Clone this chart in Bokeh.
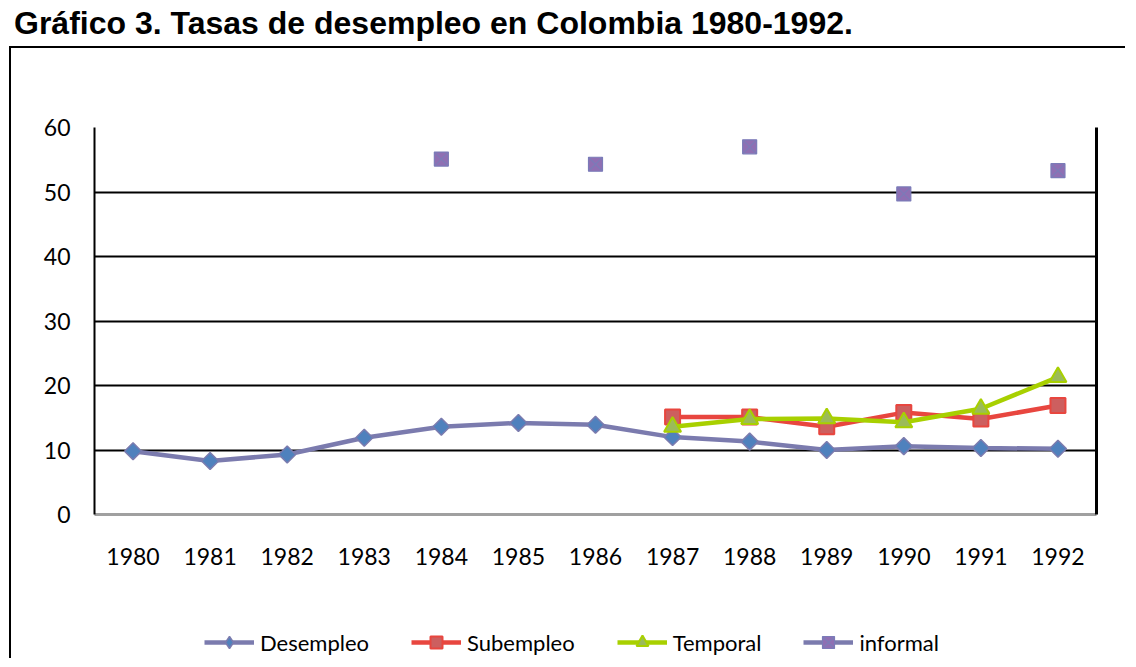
from bokeh.plotting import figure
from bokeh.layouts import column
from bokeh.models import (ColumnDataSource, Legend, LegendItem, LinearAxis, Range1d,
                          FixedTicker, Div)
from bokeh.embed import file_html
from bokeh.resources import INLINE
import math

years = ["1980", "1981", "1982", "1983", "1984", "1985", "1986",
         "1987", "1988", "1989", "1990", "1991", "1992"]
desempleo = [9.8, 8.3, 9.3, 11.9, 13.6, 14.2, 13.9, 12.0, 11.3, 10.0, 10.6, 10.3, 10.2]
sub_years = ["1987", "1988", "1989", "1990", "1991", "1992"]
subempleo = [15.1, 15.1, 13.6, 15.8, 14.8, 16.9]
temporal = [13.6, 14.8, 14.9, 14.3, 16.4, 21.3]
inf_years = ["1984", "1986", "1988", "1990", "1992"]
informal = [55.1, 54.3, 57.0, 49.7, 53.3]
y_ticks = [0, 10, 20, 30, 40, 50, 60]
series_names = ["Desempleo", "Subempleo", "Temporal", "informal"]
title_text = "Gráfico 3. Tasas de desempleo en Colombia 1980-1992."

FONT = "Lato"

# series styles
STY = {
    "Desempleo": dict(line="#7b7bae", marker="square", angle=math.pi / 4, size=12,
                      fill="#4f81bd", mline="#7b7bae", mw=1.5, lmarker="diamond"),
    "Subempleo": dict(line="#e8463f", marker="square", angle=0, size=15,
                      fill="#cd5f5f", mline="#e8463f", mw=2, lmarker="square"),
    "Temporal": dict(line="#a8d000", marker="triangle", angle=0, size=17,
                     fill="#9bbb59", mline="#a8d000", mw=2, lmarker="triangle"),
    "informal": dict(line="#7b7bae", marker="square_x", angle=0, size=14,
                     fill="#8f6fb3", mline="#7b7bb8", mw=1.2, lmarker="square_x"),
}

title_div = Div(text=title_text, width=1116, height=36,
                styles={"font-family": "Liberation Sans, Arial, sans-serif",
                        "font-weight": "bold", "font-size": "32px",
                        "line-height": "36px", "color": "black",
                        "white-space": "nowrap", "padding-left": "9px"})

p = figure(x_range=years, y_range=Range1d(0, 60), width=1116, height=552,
           output_backend="svg", toolbar_location=None,
           min_border_left=83, min_border_right=31, min_border_top=79,
           min_border_bottom=86, background_fill_color="white",
           border_fill_color="white")
p.styles = {"border-top": "2px solid black", "border-left": "2px solid black",
            "margin-left": "9px"}
p.x_range.range_padding = 0
p.outline_line_color = None

# axes
p.yaxis.ticker = FixedTicker(ticks=y_ticks)
p.yaxis.axis_line_color = "black"
p.yaxis.axis_line_width = 2
p.yaxis.major_tick_line_color = None
p.yaxis.minor_tick_line_color = None
p.yaxis.major_label_standoff = 18
p.yaxis.major_label_text_font = FONT
p.yaxis.major_label_text_font_size = "23px"
p.yaxis.major_label_text_color = "black"

p.xaxis.axis_line_color = "#a0a0a0"
p.xaxis.axis_line_width = 3
p.xaxis.major_tick_line_color = None
p.xaxis.minor_tick_line_color = None
p.xaxis.major_label_standoff = 27
p.xaxis.major_label_text_font = FONT
p.xaxis.major_label_text_font_size = "23px"
p.xaxis.major_label_text_color = "black"

right_axis = LinearAxis(ticker=FixedTicker(ticks=[]), axis_line_color="black",
                        axis_line_width=3, major_tick_line_color=None,
                        minor_tick_line_color=None, major_label_text_font_size="0px")
p.add_layout(right_axis, "right")

p.xgrid.grid_line_color = None
p.ygrid.ticker = FixedTicker(ticks=y_ticks)
p.ygrid.grid_line_color = "black"
p.ygrid.grid_line_width = 2

# data
src_d = ColumnDataSource(dict(x=years, y=desempleo))
src_s = ColumnDataSource(dict(x=sub_years, y=subempleo))
src_t = ColumnDataSource(dict(x=sub_years, y=temporal))
src_i = ColumnDataSource(dict(x=inf_years, y=informal))

def draw(fig, src, name, with_line=True, legend_glyph=False):
    s = STY[name]
    rs = []
    if with_line:
        rs.append(fig.line("x", "y", source=src, line_color=s["line"], line_width=4.5))
    rs.append(fig.scatter("x", "y", source=src,
                          marker=s["lmarker"] if legend_glyph else s["marker"],
                          angle=0 if legend_glyph else s["angle"],
                          size=s["size"], fill_color=s["fill"], line_color=s["mline"],
                          line_width=s["mw"]))
    return rs

draw(p, src_d, "Desempleo")
draw(p, src_s, "Subempleo")
draw(p, src_t, "Temporal")
draw(p, src_i, "informal", with_line=False)   # informal: markers only

# legend figure (keeps the legend outside the plot frame)
lf = figure(width=1116, height=60, output_backend="svg", toolbar_location=None,
            x_range=Range1d(0, 1), y_range=Range1d(0, 1),
            x_axis_type=None, y_axis_type=None,
            min_border=0, min_border_left=0, min_border_right=0,
            min_border_top=0, min_border_bottom=0,
            background_fill_color="white", border_fill_color="white")
lf.styles = {"border-left": "2px solid black", "margin-left": "9px"}
lf.outline_line_color = None
lf.xgrid.visible = False
lf.ygrid.visible = False

items = []
for name in series_names:
    dummy = ColumnDataSource(dict(x=[float("nan")], y=[float("nan")]))
    items.append(LegendItem(label=name, renderers=draw(lf, dummy, name, legend_glyph=True)))

legend = Legend(items=items, orientation="horizontal", location=(110, 1),
                glyph_width=50, glyph_height=30, spacing=42,
                label_text_font=FONT, label_text_font_size="22px",
                label_text_color="black", border_line_color=None,
                background_fill_alpha=0, margin=0, padding=0, label_standoff=6)
lf.add_layout(legend)

layout = column(title_div, p, lf, spacing=0)
open("out.html", "w").write(file_html(layout, INLINE))
